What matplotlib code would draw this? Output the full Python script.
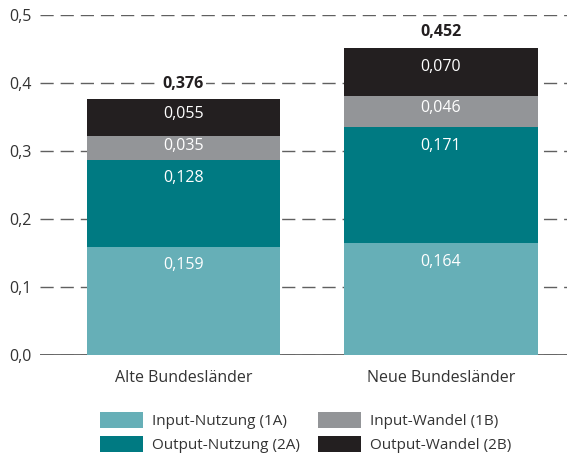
import matplotlib.pyplot as plt
import numpy as np
from matplotlib.patches import Patch

plt.rcParams["font.family"] = ["Open Sans", "DejaVu Sans"]

regions = ["Alte Bundesländer", "Neue Bundesländer"]
series = ["Input-Nutzung (1A)", "Output-Nutzung (2A)", "Input-Wandel (1B)", "Output-Wandel (2B)"]
input_nutzung = [0.159, 0.164]
output_nutzung = [0.128, 0.171]
input_wandel = [0.035, 0.046]
output_wandel = [0.055, 0.070]
totals = [0.376, 0.452]
colors = ["#66afb7", "#007a82", "#939598", "#231f20"]
yticks = [0.0, 0.1, 0.2, 0.3, 0.4, 0.5]


def fmt(v, digits=3):
    return f"{v:.{digits}f}".replace(".", ",")


fig = plt.figure(figsize=(5.67, 4.57), dpi=100)
ax = fig.add_axes([40 / 567, 1 - 355 / 457, 1 - 40 / 567, 340 / 457])

x = np.arange(len(regions))
bottom = np.zeros(len(regions))
for vals, col in zip([input_nutzung, output_nutzung, input_wandel, output_wandel], colors):
    vals = np.array(vals)
    ax.bar(x, vals, width=0.75, bottom=bottom, color=col, zorder=2)
    for xi, b, v in zip(x, bottom, vals):
        top = b + v
        y = top - min(0.027, 0.4 * v)
        ax.text(xi, y, fmt(v), ha="center", va="center", color="white",
                fontsize=11.5, zorder=3)
    bottom += vals

for xi, t in zip(x, totals):
    ax.text(xi, t + 0.023, fmt(t), ha="center", va="center", color="#231f20",
            fontsize=11.5, fontweight="bold", zorder=3,
            bbox=dict(facecolor="white", edgecolor="none", pad=1.5))

ax.set_xlim(-0.557, 1.489)
ax.set_ylim(0, 0.5)
ax.set_yticks(yticks)
ax.set_yticklabels([fmt(v, 1) for v in yticks])
ax.set_xticks(x)
ax.set_xticklabels(regions)
ax.tick_params(axis="both", length=0, labelsize=11.5, colors="#333333")
ax.tick_params(axis="x", pad=11)
ax.tick_params(axis="y", pad=6)
ax.grid(axis="y", color="#606060", linewidth=1.0, linestyle=(0, (9.5, 5)))
ax.set_axisbelow(True)
ax.axhline(0, color="#505050", linewidth=1.2, zorder=1)
for s in ax.spines.values():
    s.set_visible(False)

handles = [Patch(facecolor=c, edgecolor="none") for c in colors]
fig.legend(handles, series, ncol=2, loc="upper left",
           bbox_to_anchor=(86 / 567, 1 - 398 / 457), frameon=False,
           fontsize=11, handlelength=2.8, handleheight=1.25,
           handletextpad=0.6, labelspacing=0.45, columnspacing=1.2,
           labelcolor="#333333")

fig.savefig("out.png", dpi=100)
